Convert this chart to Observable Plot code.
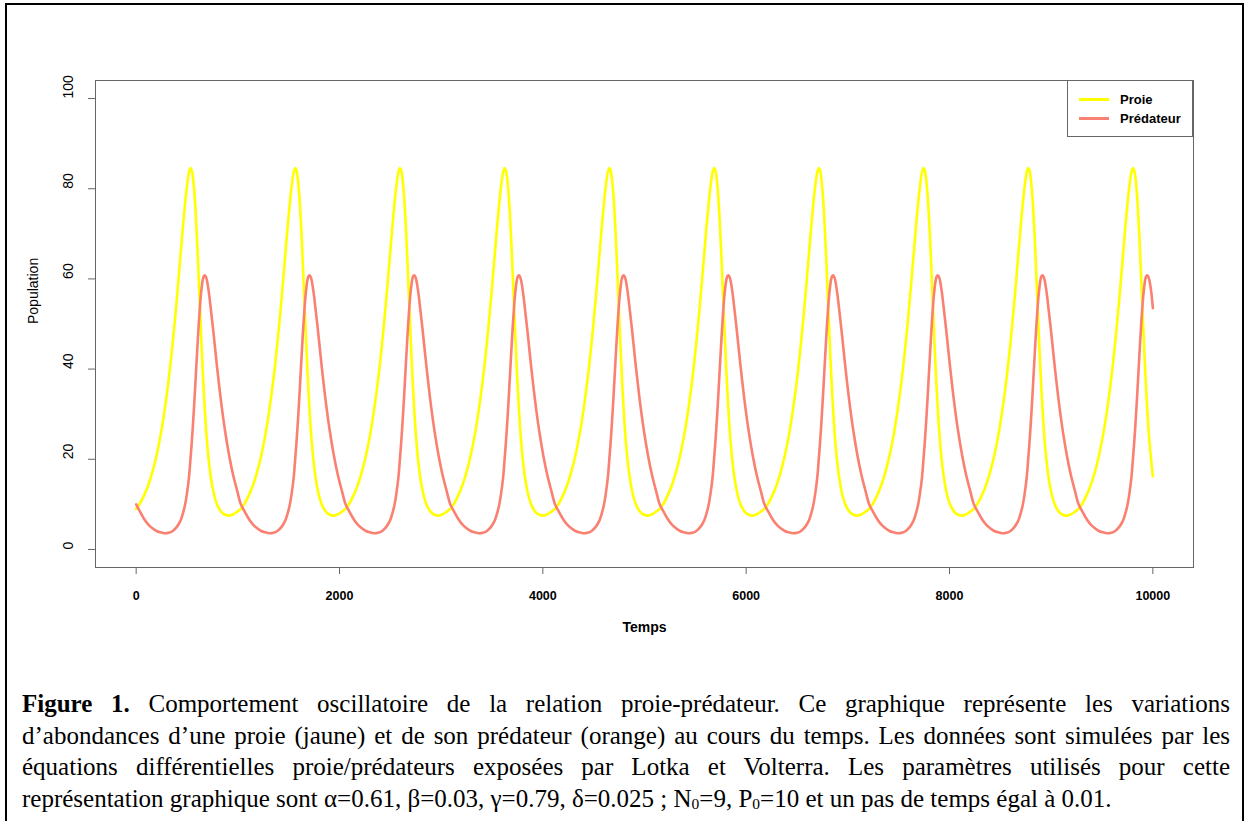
<!DOCTYPE html>
<html><head><meta charset="utf-8">
<script src="https://cdn.jsdelivr.net/npm/d3@7"></script>
<script src="https://cdn.jsdelivr.net/npm/@observablehq/plot@0.6"></script>
<style>
html,body{margin:0;padding:0;background:#fff;width:1245px;height:821px;overflow:hidden;}
#border{position:absolute;left:5px;top:3px;width:1239px;height:880px;border:2px solid #000;box-sizing:border-box;}
#chart{position:absolute;left:0;top:0;}
#legend{position:absolute;left:1067px;top:80px;width:126px;height:57px;border:1px solid #666;box-sizing:border-box;background:#fff;font:bold 13px "Liberation Sans",Arial,sans-serif;color:#000;}
.row{position:absolute;left:0;height:18px;display:flex;align-items:center;white-space:nowrap;}
.sw{width:30px;height:3px;margin-left:11px;margin-right:11px;}
#caption{position:absolute;left:22px;top:688px;width:1208px;font-family:"Liberation Serif","Times New Roman",serif;color:#000;}
.ln{white-space:nowrap;text-align:justify;text-align-last:justify;height:31.7px;line-height:31.7px;}
.ln.last{text-align:left;text-align-last:left;}
.sub{font-size:0.62em;vertical-align:-0.12em;}
</style></head>
<body>
<div id="border"></div>
<div id="chart"></div>
<div id="legend">
  <div class="row" style="top:9px"><div class="sw" style="background:#ffff00"></div><span>Proie</span></div>
  <div class="row" style="top:28px"><div class="sw" style="background:#fa8072"></div><span>Prédateur</span></div>
</div>
<div id="caption">
  <div class="ln"><b>Figure 1.</b> Comportement oscillatoire de la relation proie-prédateur. Ce graphique représente les variations</div>
  <div class="ln">d’abondances d’une proie (jaune) et de son prédateur (orange) au cours du temps. Les données sont simulées par les</div>
  <div class="ln">équations différentielles proie/prédateurs exposées par Lotka et Volterra. Les paramètres utilisés pour cette</div>
  <div class="ln last" id="lastline">représentation graphique sont α=0.61, β=0.03, γ=0.79, δ=0.025 ; N<span class="sub">0</span>=9, P<span class="sub">0</span>=10 et un pas de temps égal à 0.01.</div>
</div>
<script>
// ---- Data (time steps, one row per oscillation) ----
const temps = [
 [0,40,80,120,160,200,240,280,320,360,400,420,440,460,480,500,520,535,545,555,565,575,585,595,605,615,625,635,645,655,665,675,685,695,715,735,755,775,795,835,875,915,955,995],
 [1030,1070,1110,1150,1190,1230,1270,1310,1350,1390,1430,1450,1470,1490,1510,1530,1550,1565,1575,1585,1595,1605,1615,1625,1635,1645,1655,1665,1675,1685,1695,1705,1715,1725,1745,1765,1785,1805,1825,1865,1905,1945,1985,2025],
 [2060,2100,2140,2180,2220,2260,2300,2340,2380,2420,2460,2480,2500,2520,2540,2560,2580,2595,2605,2615,2625,2635,2645,2655,2665,2675,2685,2695,2705,2715,2725,2735,2745,2755,2775,2795,2815,2835,2855,2895,2935,2975,3015,3055],
 [3090,3130,3170,3210,3250,3290,3330,3370,3410,3450,3490,3510,3530,3550,3570,3590,3610,3625,3635,3645,3655,3665,3675,3685,3695,3705,3715,3725,3735,3745,3755,3765,3775,3785,3805,3825,3845,3865,3885,3925,3965,4005,4045,4085],
 [4120,4160,4200,4240,4280,4320,4360,4400,4440,4480,4520,4540,4560,4580,4600,4620,4640,4655,4665,4675,4685,4695,4705,4715,4725,4735,4745,4755,4765,4775,4785,4795,4805,4815,4835,4855,4875,4895,4915,4955,4995,5035,5075,5115],
 [5150,5190,5230,5270,5310,5350,5390,5430,5470,5510,5550,5570,5590,5610,5630,5650,5670,5685,5695,5705,5715,5725,5735,5745,5755,5765,5775,5785,5795,5805,5815,5825,5835,5845,5865,5885,5905,5925,5945,5985,6025,6065,6105,6145],
 [6180,6220,6260,6300,6340,6380,6420,6460,6500,6540,6580,6600,6620,6640,6660,6680,6700,6715,6725,6735,6745,6755,6765,6775,6785,6795,6805,6815,6825,6835,6845,6855,6865,6875,6895,6915,6935,6955,6975,7015,7055,7095,7135,7175],
 [7210,7250,7290,7330,7370,7410,7450,7490,7530,7570,7610,7630,7650,7670,7690,7710,7730,7745,7755,7765,7775,7785,7795,7805,7815,7825,7835,7845,7855,7865,7875,7885,7895,7905,7925,7945,7965,7985,8005,8045,8085,8125,8165,8205],
 [8240,8280,8320,8360,8400,8440,8480,8520,8560,8600,8640,8660,8680,8700,8720,8740,8760,8775,8785,8795,8805,8815,8825,8835,8845,8855,8865,8875,8885,8895,8905,8915,8925,8935,8955,8975,8995,9015,9035,9075,9115,9155,9195,9235],
 [9270,9310,9350,9390,9430,9470,9510,9550,9590,9630,9670,9690,9710,9730,9750,9770,9790,9805,9815,9825,9835,9845,9855,9865,9875,9885,9895,9905,9915,9925,9935,9945,9955,9965,9985,10000]
];
const proie = [
 [9.0,10.3,12.1,14.3,17.2,20.8,25.3,30.9,37.7,45.9,55.5,60.8,66.2,71.6,76.5,80.7,83.7,84.6,84.2,83.1,81.1,78.4,74.8,70.5,65.7,60.4,55.0,49.6,44.4,39.5,35.1,31.1,27.5,24.4,19.5,15.9,13.3,11.4,10.0,8.4,7.7,7.5,7.8,8.4],
 [9.0,10.3,12.1,14.3,17.2,20.8,25.3,30.9,37.7,45.9,55.5,60.8,66.2,71.6,76.5,80.7,83.7,84.6,84.2,83.1,81.1,78.4,74.8,70.5,65.7,60.4,55.0,49.6,44.4,39.5,35.1,31.1,27.5,24.4,19.5,15.9,13.3,11.4,10.0,8.4,7.7,7.5,7.8,8.4],
 [9.0,10.3,12.1,14.3,17.2,20.8,25.3,30.9,37.7,45.9,55.5,60.8,66.2,71.6,76.5,80.7,83.7,84.6,84.2,83.1,81.1,78.4,74.8,70.5,65.7,60.4,55.0,49.6,44.4,39.5,35.1,31.1,27.5,24.4,19.5,15.9,13.3,11.4,10.0,8.4,7.7,7.5,7.8,8.4],
 [9.0,10.3,12.1,14.3,17.2,20.8,25.3,30.9,37.7,45.9,55.5,60.8,66.2,71.6,76.5,80.7,83.7,84.6,84.2,83.1,81.1,78.4,74.8,70.5,65.7,60.4,55.0,49.6,44.4,39.5,35.1,31.1,27.5,24.4,19.5,15.9,13.3,11.4,10.0,8.4,7.7,7.5,7.8,8.4],
 [9.0,10.3,12.1,14.3,17.2,20.8,25.3,30.9,37.7,45.9,55.5,60.8,66.2,71.6,76.5,80.7,83.7,84.6,84.2,83.1,81.1,78.4,74.8,70.5,65.7,60.4,55.0,49.6,44.4,39.5,35.1,31.1,27.5,24.4,19.5,15.9,13.3,11.4,10.0,8.4,7.7,7.5,7.8,8.4],
 [9.0,10.3,12.1,14.3,17.2,20.8,25.3,30.9,37.7,45.9,55.5,60.8,66.2,71.6,76.5,80.7,83.7,84.6,84.2,83.1,81.1,78.4,74.8,70.5,65.7,60.4,55.0,49.6,44.4,39.5,35.1,31.1,27.5,24.4,19.5,15.9,13.3,11.4,10.0,8.4,7.7,7.5,7.8,8.4],
 [9.0,10.3,12.1,14.3,17.2,20.8,25.3,30.9,37.7,45.9,55.5,60.8,66.2,71.6,76.5,80.7,83.7,84.6,84.2,83.1,81.1,78.4,74.8,70.5,65.7,60.4,55.0,49.6,44.4,39.5,35.1,31.1,27.5,24.4,19.5,15.9,13.3,11.4,10.0,8.4,7.7,7.5,7.8,8.4],
 [9.0,10.3,12.1,14.3,17.2,20.8,25.3,30.9,37.7,45.9,55.5,60.8,66.2,71.6,76.5,80.7,83.7,84.6,84.2,83.1,81.1,78.4,74.8,70.5,65.7,60.4,55.0,49.6,44.4,39.5,35.1,31.1,27.5,24.4,19.5,15.9,13.3,11.4,10.0,8.4,7.7,7.5,7.8,8.4],
 [9.0,10.3,12.1,14.3,17.2,20.8,25.3,30.9,37.7,45.9,55.5,60.8,66.2,71.6,76.5,80.7,83.7,84.6,84.2,83.1,81.1,78.4,74.8,70.5,65.7,60.4,55.0,49.6,44.4,39.5,35.1,31.1,27.5,24.4,19.5,15.9,13.3,11.4,10.0,8.4,7.7,7.5,7.8,8.4],
 [9.0,10.3,12.1,14.3,17.2,20.8,25.3,30.9,37.7,45.9,55.5,60.8,66.2,71.6,76.5,80.7,83.7,84.6,84.2,83.1,81.1,78.4,74.8,70.5,65.7,60.4,55.0,49.6,44.4,39.5,35.1,31.1,27.5,24.4,19.5,16.2]
];
const predateur = [
 [10.0,8.3,6.7,5.5,4.7,4.1,3.8,3.6,3.7,4.1,5.0,5.7,6.6,8.0,9.8,12.5,16.1,20.3,23.2,26.4,30.0,33.8,37.9,42.0,46.0,49.8,53.2,56.0,58.2,59.8,60.6,60.8,60.5,59.8,57.0,53.2,49.2,44.9,40.6,32.8,26.2,20.8,16.4,12.9],
 [10.0,8.3,6.7,5.5,4.7,4.1,3.8,3.6,3.7,4.1,5.0,5.7,6.6,8.0,9.8,12.5,16.1,20.3,23.2,26.4,30.0,33.8,37.9,42.0,46.0,49.8,53.2,56.0,58.2,59.8,60.6,60.8,60.5,59.8,57.0,53.2,49.2,44.9,40.6,32.8,26.2,20.8,16.4,12.9],
 [10.0,8.3,6.7,5.5,4.7,4.1,3.8,3.6,3.7,4.1,5.0,5.7,6.6,8.0,9.8,12.5,16.1,20.3,23.2,26.4,30.0,33.8,37.9,42.0,46.0,49.8,53.2,56.0,58.2,59.8,60.6,60.8,60.5,59.8,57.0,53.2,49.2,44.9,40.6,32.8,26.2,20.8,16.4,12.9],
 [10.0,8.3,6.7,5.5,4.7,4.1,3.8,3.6,3.7,4.1,5.0,5.7,6.6,8.0,9.8,12.5,16.1,20.3,23.2,26.4,30.0,33.8,37.9,42.0,46.0,49.8,53.2,56.0,58.2,59.8,60.6,60.8,60.5,59.8,57.0,53.2,49.2,44.9,40.6,32.8,26.2,20.8,16.4,12.9],
 [10.0,8.3,6.7,5.5,4.7,4.1,3.8,3.6,3.7,4.1,5.0,5.7,6.6,8.0,9.8,12.5,16.1,20.3,23.2,26.4,30.0,33.8,37.9,42.0,46.0,49.8,53.2,56.0,58.2,59.8,60.6,60.8,60.5,59.8,57.0,53.2,49.2,44.9,40.6,32.8,26.2,20.8,16.4,12.9],
 [10.0,8.3,6.7,5.5,4.7,4.1,3.8,3.6,3.7,4.1,5.0,5.7,6.6,8.0,9.8,12.5,16.1,20.3,23.2,26.4,30.0,33.8,37.9,42.0,46.0,49.8,53.2,56.0,58.2,59.8,60.6,60.8,60.5,59.8,57.0,53.2,49.2,44.9,40.6,32.8,26.2,20.8,16.4,12.9],
 [10.0,8.3,6.7,5.5,4.7,4.1,3.8,3.6,3.7,4.1,5.0,5.7,6.6,8.0,9.8,12.5,16.1,20.3,23.2,26.4,30.0,33.8,37.9,42.0,46.0,49.8,53.2,56.0,58.2,59.8,60.6,60.8,60.5,59.8,57.0,53.2,49.2,44.9,40.6,32.8,26.2,20.8,16.4,12.9],
 [10.0,8.3,6.7,5.5,4.7,4.1,3.8,3.6,3.7,4.1,5.0,5.7,6.6,8.0,9.8,12.5,16.1,20.3,23.2,26.4,30.0,33.8,37.9,42.0,46.0,49.8,53.2,56.0,58.2,59.8,60.6,60.8,60.5,59.8,57.0,53.2,49.2,44.9,40.6,32.8,26.2,20.8,16.4,12.9],
 [10.0,8.3,6.7,5.5,4.7,4.1,3.8,3.6,3.7,4.1,5.0,5.7,6.6,8.0,9.8,12.5,16.1,20.3,23.2,26.4,30.0,33.8,37.9,42.0,46.0,49.8,53.2,56.0,58.2,59.8,60.6,60.8,60.5,59.8,57.0,53.2,49.2,44.9,40.6,32.8,26.2,20.8,16.4,12.9],
 [10.0,8.3,6.7,5.5,4.7,4.1,3.8,3.6,3.7,4.1,5.0,5.7,6.6,8.0,9.8,12.5,16.1,20.3,23.2,26.4,30.0,33.8,37.9,42.0,46.0,49.8,53.2,56.0,58.2,59.8,60.6,60.8,60.5,59.8,57.0,53.5]
];
const xTicks = [0, 2000, 4000, 6000, 8000, 10000];
const yTicks = [0, 20, 40, 60, 80, 100];
const xTitle = "Temps";
const yTitle = "Population";
const couleurProie = "#ffff00";
const couleurPredateur = "#fa8072";

// ---- Build tables ----
function table(times, values) {
  const out = [];
  times.forEach((row, k) => {
    const vals = values[k];
    const n = Math.min(row.length, vals.length);
    for (let i = 0; i < n; i++) out.push({t: row[i], v: vals[i]});
  });
  return out;
}
const proieData = table(temps, proie);
const predData = table(temps, predateur);

const chart = Plot.plot({
  width: 1245, height: 660,
  marginLeft: 95, marginRight: 52, marginTop: 80, marginBottom: 93,
  style: {fontFamily: '"Liberation Sans", Arial, sans-serif', background: "transparent", color: "#000", overflow: "visible"},
  x: {domain: [-400, 10400]},
  y: {domain: [-4, 104]},
  marks: [
    Plot.line(proieData, {x: "t", y: "v", stroke: couleurProie, strokeWidth: 2.6, curve: "catmull-rom"}),
    Plot.line(predData, {x: "t", y: "v", stroke: couleurPredateur, strokeWidth: 2.6, curve: "catmull-rom"}),
    Plot.frame({stroke: "#666", strokeWidth: 1}),
    Plot.axisX({ticks: xTicks, tickSize: 7, tickPadding: 17, stroke: "#666", fill: "#000", fontWeight: "bold", fontSize: 12.5, label: null, tickFormat: d => String(d)}),
    Plot.axisY({ticks: yTicks, tickSize: 7, tickFormat: () => "", stroke: "#666", label: null}),
    Plot.text(yTicks, {y: d => d, text: d => String(d), frameAnchor: "left", dx: -27, rotate: -90, fontSize: 14, fill: "#000"}),
    Plot.text([yTitle], {text: d => d, frameAnchor: "left", dx: -62, rotate: -90, fontSize: 14, fill: "#000"}),
    Plot.text([xTitle], {text: d => d, frameAnchor: "bottom", dy: 64, fontSize: 14, fontWeight: "bold", fill: "#000"})
  ]
});
document.getElementById("chart").appendChild(chart);

// ---- Fit caption font size to the reference line widths ----
(function fitCaption() {
  const cap = document.getElementById("caption");
  cap.style.fontSize = "100px";
  const probe = document.createElement("span");
  probe.style.whiteSpace = "nowrap";
  probe.style.font = "inherit";
  cap.appendChild(probe);
  const lines = cap.querySelectorAll(".ln");
  probe.innerHTML = lines[3].innerHTML;
  const w4 = probe.getBoundingClientRect().width;
  probe.innerHTML = lines[1].innerHTML;
  const w2 = probe.getBoundingClientRect().width;
  cap.removeChild(probe);
  const s = Math.min(1090 / w4, 1204 / w2) * 100;
  cap.style.fontSize = s.toFixed(2) + "px";
})();
</script>
</body></html>
